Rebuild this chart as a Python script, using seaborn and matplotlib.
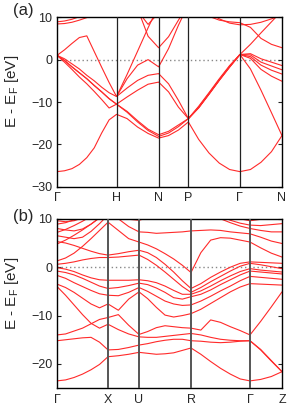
import numpy as np
import pandas as pd
import seaborn as sns
import matplotlib
matplotlib.use("Agg")
import matplotlib.pyplot as plt

nan = np.nan

# ---- panel (a): k path and bands (energies in eV)
k_a = [0.0, 0.125, 0.25, 0.375, 0.5, 0.625, 0.75, 0.875, 1.0,
       1.177, 1.354, 1.530, 1.707,
       1.874, 2.040, 2.207,
       2.380, 2.553, 2.727, 2.900, 3.073,
       3.250, 3.427, 3.603, 3.780]
ticks_a = [0.0, 1.0, 1.707, 2.207, 3.073, 3.780]
labels_a = ["Γ", "H", "N", "P", "Γ", "N"]

a1 = [-26.4, -26.2, -25.7, -24.7, -23.1, -20.8, -17.3, -14.2, -12.9, -13.9, -15.9, -17.4, -18.5,
      -17.9, -16.6, -14.7, -18.8, -22.0, -24.4, -25.9, -26.4, -25.9, -24.2, -21.7, -17.9]
a2 = [1.0, -0.6, -2.3, -4.1, -5.7, -7.5, -9.4, -11.4, -10.5, -12.4, -14.7, -16.7, -18.1,
      -17.3, -15.8, -13.9, -11.4, -8.2, -4.9, -1.8, 1.2, 1.4, 0.2, -0.6, -1.4]
a3 = [1.0, -0.2, -1.7, -3.1, -4.5, -6.1, -7.6, -9.2, -10.5, -12.2, -14.4, -16.4, -17.7,
      -16.9, -15.4, -13.9, -11.2, -8.0, -4.7, -1.6, 1.2, 1.1, -0.6, -1.5, -2.4]
a4 = [1.0, 0.2, -1.0, -2.2, -3.7, -5.0, -6.5, -7.8, -8.7, -6.7, -4.9, -3.7, -3.3,
      -5.7, -9.6, -13.9, -11.0, -7.8, -4.5, -1.4, 1.2, 0.7, -1.3, -2.5, -3.4]
a5 = [1.0, -0.2, -1.7, -3.1, -4.5, -6.1, -7.6, -9.2, -10.5, -8.8, -7.2, -5.8, -5.3,
      -7.6, -11.2, -13.9, -11.3, -8.1, -4.8, -1.7, 1.2, 0.3, -2.3, -3.9, -5.1]
a6 = [1.0, 2.3, 3.8, 5.2, 5.6, 1.9, -1.8, -5.4, -8.7, -4.5, -1.3, 0.0, -1.7,
      2.6, 8.1, 13.0, 12.0, 10.2, 9.3, 8.9, 8.7, 7.6, 5.0, 3.6, 2.8]
a7 = [nan] * 8 + [-8.7, -3.5, 2.0, 7.5, 12.7] + [nan] * 12
a8 = [nan] * 10 + [12.0, 5.5, 2.8, 5.4, 9.3, 13.0] + [nan] * 9
a9 = [nan] * 10 + [11.5, 8.3, 11.0] + [nan] * 12
a10 = [nan] * 15 + [-13.9, -11.3, -8.1, -4.8, -1.7, 1.2, 3.6, 6.3, 8.9, 11.5]
a11 = [nan] * 20 + [1.2, -2.2, -7.2, -12.5, -17.9]
a12 = [8.9, 9.1, 9.5, 10.1, 10.8] + [nan] * 20
a13 = [8.4, 8.5, 8.8, 9.3, 9.9, 10.6] + [nan] * 19
a14 = [nan] * 16 + [12.5, 11.0, 9.6, 8.6, 8.2, 8.3, 8.8, 9.6, 10.5]
bands_a = [a1, a2, a3, a4, a5, a6, a7, a8, a9, a10, a11, a12, a13, a14]

# ---- panel (b)
k_b = [0.0, 0.0378, 0.0756, 0.1133, 0.1511, 0.1889, 0.2267,
       0.2726, 0.3185, 0.3644,
       0.4029, 0.4415, 0.4800, 0.5185, 0.5571, 0.5956,
       0.6393, 0.6830, 0.7267, 0.7704, 0.8141, 0.8578,
       0.9052, 0.9526, 1.0]
ticks_b = [0.0, 0.2267, 0.3644, 0.5956, 0.8578, 1.0]
labels_b = ["Γ", "X", "U", "R", "Γ", "Z"]

b1 = [-23.5, -23.3, -22.8, -22.1, -21.2, -20.1, -18.5, -18.3, -18.0, -17.6,
      -17.8, -18.0, -17.9, -17.7, -17.2, -16.7, -18.0, -19.5, -20.9, -22.1, -23.1, -23.5,
      -23.2, -22.6, -21.6]
b2 = [-15.2, -15.0, -14.8, -14.6, -14.5, -15.5, -17.1, -17.0, -16.6, -16.1,
      -15.8, -15.4, -15.1, -14.9, -14.9, -15.2, -15.3, -15.5, -15.6, -15.5, -15.3, -15.2,
      -17.0, -19.3, -21.6]
b3 = [-14.0, -13.8, -13.2, -12.6, -11.7, -10.8, -10.4, -9.8, -12.0, -13.9,
      -13.3, -12.5, -12.1, -12.3, -12.5, -12.6, -13.0, -10.9, -11.4, -12.3, -13.1, -14.0,
      -11.2, -8.2, -5.1]
b4 = [-4.0, -5.8, -7.8, -9.8, -11.6, -12.6, -11.8, -12.9, -13.8, -14.4,
      -14.5, -14.5, -14.3, -14.1, -13.9, -13.7, -14.0, -14.5, -14.9, -15.1, -15.2, -15.2,
      -17.1, -19.4, -21.6]
b5 = [-3.5, -4.2, -5.2, -6.4, -7.6, -8.4, -7.6, -8.9, -6.6, -5.1,
      -6.5, -8.3, -9.9, -10.3, -10.0, -9.6, -8.7, -7.5, -6.3, -5.1, -4.1, -3.4,
      -3.5, -3.6, -3.7]
b6 = [-1.7, -2.3, -3.2, -4.0, -4.8, -5.5, -5.8, -5.9, -5.2, -4.2,
      -5.0, -6.0, -7.0, -7.6, -7.9, -7.8, -7.0, -6.0, -4.9, -3.9, -2.8, -1.9,
      -2.1, -2.3, -2.5]
b7 = [-0.8, -1.1, -1.6, -2.3, -3.1, -3.9, -4.4, -4.2, -3.8, -3.3,
      -3.6, -4.3, -5.2, -6.3, -6.6, -6.1, -5.6, -4.7, -3.6, -2.6, -1.6, -0.8,
      -1.0, -1.2, -1.4]
b8 = [-0.1, -0.4, -0.9, -1.6, -2.2, -2.6, -2.7, -2.7, -2.7, -2.6,
      -2.8, -3.2, -3.9, -4.8, -5.6, -5.6, -4.9, -3.9, -2.8, -1.8, -0.9, -0.3,
      -0.6, -0.8, -1.0]
b9 = [0.6, 0.8, 1.1, 1.5, 1.8, 2.0, 2.0, 2.1, 2.3, 2.5,
      1.6, 0.4, -1.0, -2.5, -4.0, -5.2, -4.2, -3.0, -1.9, -0.8, 0.2, 0.8,
      0.5, 0.1, -0.3]
b10 = [5.3, 5.0, 4.5, 3.9, 3.3, 2.8, 2.5, 2.8, 3.2, 3.5,
       3.0, 2.0, 0.6, -1.0, -2.8, -4.4, -3.4, -2.1, -1.0, 0.0, 0.8, 1.1,
       1.0, 0.9, 0.8]
b11 = [1.3, 1.9, 2.9, 4.3, 5.9, 7.6, 9.3, 7.6, 5.9, 5.2,
       4.6, 3.8, 2.8, 1.7, 0.4, -1.1, 3.0, 5.6, 6.1, 6.0, 5.6, 5.2,
       4.0, 2.9, 2.1]
b12 = [4.8, 5.6, 6.6, 7.7, 8.9, 10.2, 11.5, 10.0, 8.4, 7.3,
       7.2, 7.0, 7.1, 7.2, 7.3, 7.5, 7.6, 7.7, 7.6, 7.3, 7.1, 6.9,
       6.2, 5.4, 4.9]
b13 = [6.5, 6.2, 5.9, 6.2, 7.4, 9.0, 10.8, 10.3, 9.9, 9.7,
       10.2, 10.8, 11.3, 11.6, 11.8, 12.0, 11.5, 10.8, 10.0, 9.2, 8.5, 8.0,
       7.6, 7.3, 7.3]
b14 = [7.2, 7.8, 8.6, 9.5, 10.5, 11.5, 12.5, 12.0, 11.5, 11.0,
       11.5, 12.0, 12.5, 12.5, 12.5, 12.5, 12.0, 11.5, 10.6, 9.7, 9.1, 8.7,
       8.6, 8.8, 9.0]
b15 = [8.0, 7.7, 7.5, 7.9, 8.9, 10.2, 11.5, 11.0, 10.7, 10.8,
       11.5, 12.0, 12.5, 13.0, 13.0, 13.0, 13.0, 12.3, 11.4, 10.6, 10.0, 9.6,
       9.9, 10.2, 10.4]
b16 = [8.9, 9.2, 9.8, 10.6, 11.5, 12.5, 13.5, 13.0, 12.5, 12.0,
       12.5, 13.0, 13.5, 14.0, 14.0, 14.0, 14.0, 13.0, 12.5, 12.0, 11.5, 11.0,
       11.0, 11.0, 11.0]
b17 = [9.6, 9.4, 9.6, 10.2, 11.0, 12.0, 13.0, 13.5, 13.0, 12.5,
       13.0, 13.5, 14.0, 14.5, 15.0, 15.0, 15.0, 14.0, 13.5, 13.0, 12.5, 12.0,
       12.0, 12.0, 12.0]
bands_b = [b1, b2, b3, b4, b5, b6, b7, b8, b9, b10, b11, b12, b13, b14, b15, b16, b17]

sns.set_style("white")
plt.rcParams["font.family"] = ["Liberation Sans", "DejaVu Sans"]
plt.rcParams["mathtext.default"] = "regular"

RED = "#ff2a2a"


def to_long(k, bands):
    # one row per point, a new unit wherever a band leaves the picture (nan)
    rows = []
    for i, e in enumerate(bands):
        seg = 0
        for kk, ee in zip(k, e):
            if np.isnan(ee):
                seg += 1
                continue
            rows.append((kk, ee, f"{i}_{seg}"))
    return pd.DataFrame(rows, columns=["k", "E", "band"])


def draw(ax, k, bands, ticks, labels, ylim, yticks, vcol, vlw):
    df = to_long(k, bands)
    sns.lineplot(data=df, x="k", y="E", units="band", estimator=None, sort=False,
                 color=RED, linewidth=0.8, legend=False, ax=ax)
    ax.axhline(0, color="#888888", ls=(0, (1, 2)), lw=1.0, zorder=0)
    for t in ticks[1:-1]:
        ax.axvline(t, color=vcol, lw=vlw, zorder=3)
    ax.set_xlim(ticks[0], ticks[-1])
    ax.set_ylim(*ylim)
    ax.set_xticks(ticks)
    ax.set_xticklabels(labels)
    ax.set_yticks(yticks)
    ax.tick_params(axis="x", length=0, pad=4, labelsize=9)
    ax.tick_params(axis="y", direction="in", length=3, right=True, left=True,
                   pad=3.5, labelsize=9, width=0.8)
    ax.set_xlabel("")
    ax.set_ylabel("E - E$_{F}$ [eV]", fontsize=11)
    ax.yaxis.set_label_coords(-0.16, 0.56)
    for s in ax.spines.values():
        s.set_color("black")
        s.set_linewidth(1.0)


fig = plt.figure(figsize=(2.91, 4.09), dpi=100)
ax_a = fig.add_axes([0.196, 0.543, 0.773, 0.415])
ax_b = fig.add_axes([0.196, 0.051, 0.773, 0.414])

draw(ax_a, k_a, bands_a, ticks_a, labels_a, (-30, 10), [-30, -20, -10, 0, 10], "#222222", 0.9)
draw(ax_b, k_b, bands_b, ticks_b, labels_b, (-25, 10), [-20, -10, 0, 10], "#555555", 1.4)

fig.text(13 / 291, 1 - 10.5 / 409, "(a)", fontsize=12, va="center", ha="left")
fig.text(13 / 291, 1 - 216 / 409, "(b)", fontsize=12, va="center", ha="left")

fig.savefig("out.png", dpi=100)
